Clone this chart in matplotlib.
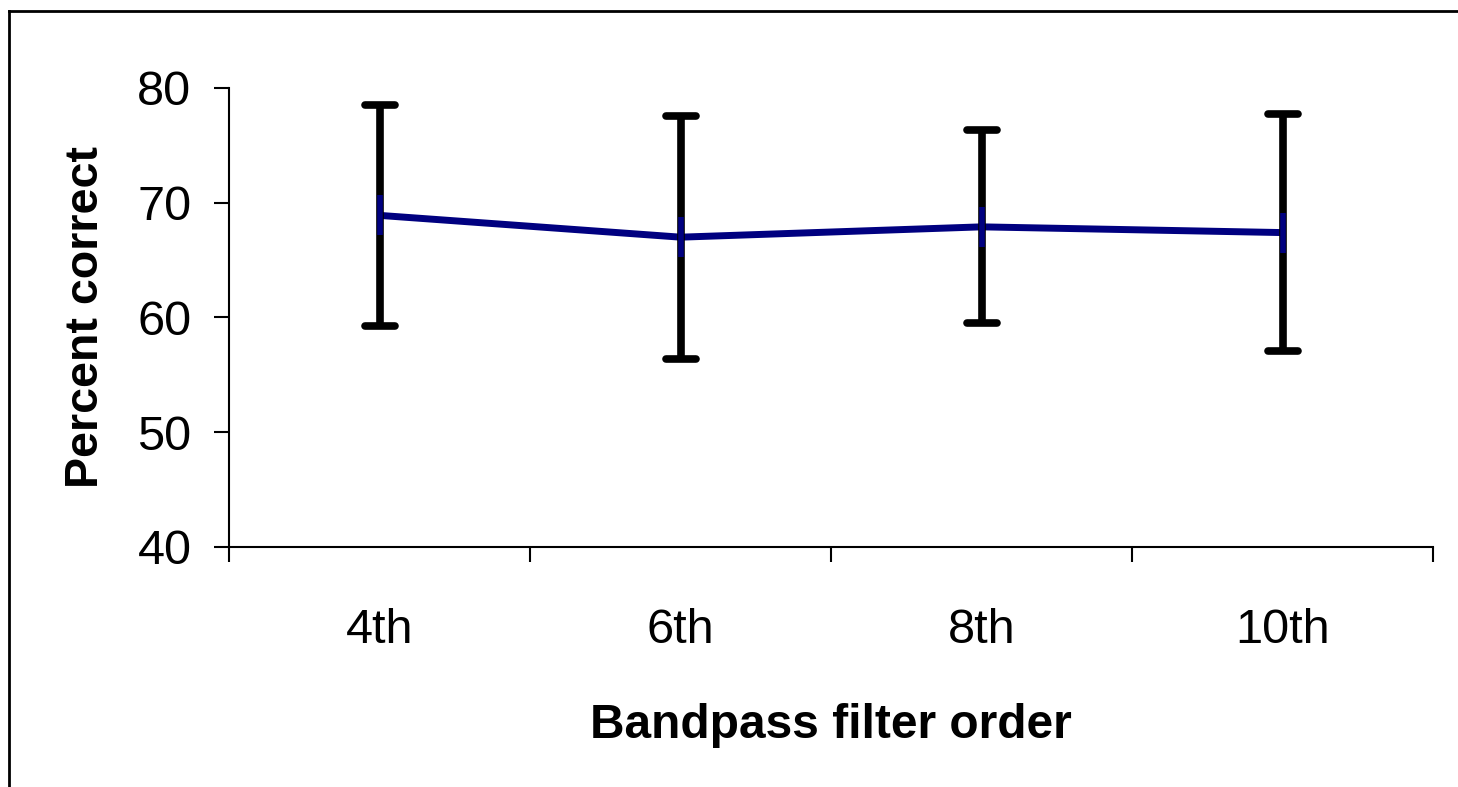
import numpy as np
import matplotlib.pyplot as plt
from matplotlib.lines import Line2D
from matplotlib.markers import MarkerStyle

plt.rcParams['font.family'] = ['Liberation Sans', 'DejaVu Sans']

orders = ['4th', '6th', '8th', '10th']
percent_correct = [68.9, 67.0, 67.9, 67.4]
error = [9.6, 10.6, 8.4, 10.3]

fig = plt.figure(figsize=(14.58, 7.87), dpi=100)
ax = fig.add_axes([229/1458, 1 - 547/787, 1204/1458, 459/787])

x = np.arange(len(orders)) + 0.5
ax.plot(x, percent_correct, color='#000080', lw=5, zorder=2,
        solid_capstyle='butt')
_, caps, _ = ax.errorbar(x, percent_correct, yerr=error, fmt='none',
                         ecolor='black', elinewidth=5.5, capsize=10.5,
                         capthick=5.5, zorder=3)
for cap in caps:
    cap.set_marker(MarkerStyle('_', capstyle='round'))
ax.plot(x, percent_correct, ls='none', marker='|', ms=29, mew=4,
        color='#000080', zorder=4)

ax.set_xlim(0, len(orders))
ax.set_ylim(40, 80)
ax.set_yticks([40, 50, 60, 70, 80])
ax.set_xticks(np.arange(len(orders) + 1))
ax.set_xticklabels([])
ax.set_xticks(x, minor=True)
ax.set_xticklabels(orders, minor=True)

for side in ['top', 'right']:
    ax.spines[side].set_visible(False)
for side in ['left', 'bottom']:
    ax.spines[side].set_linewidth(1.5)

ax.tick_params(axis='y', direction='out', length=11, width=1.5,
               labelsize=35, pad=16)
ax.tick_params(axis='x', which='major', direction='out', length=11, width=1.5)
ax.tick_params(axis='x', which='minor', length=0, labelsize=35, pad=44)

ax.set_xlabel('Bandpass filter order', fontsize=34.5, fontweight='bold',
              labelpad=36)
ax.set_ylabel('Percent correct', fontsize=33.5, fontweight='bold', labelpad=21)

# frame around the chart area
x0, y0 = 8.5/1458, 1 - 11/787
fig.add_artist(Line2D([x0, 1.0], [y0, y0], color='black', lw=2))
fig.add_artist(Line2D([x0, x0], [0.0, y0], color='black', lw=2))

fig.savefig('out.png', dpi=100)
